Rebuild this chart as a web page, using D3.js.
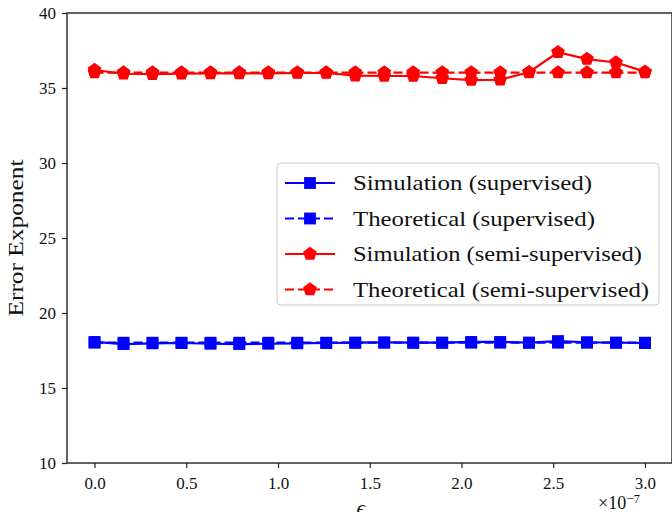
<!DOCTYPE html>
<html>
<head>
<meta charset="utf-8">
<script src="https://cdn.jsdelivr.net/npm/d3@7"></script>
<style>
body{margin:0;background:#fff;}
svg text{font-family:"Liberation Serif","DejaVu Serif",serif;fill:#111;}
</style>
</head>
<body>
<script>
var w = 672;
var h = 512;

// x values in units of 1e-7
var eps = [0.0,0.158,0.316,0.474,0.632,0.789,0.947,1.105,1.263,1.421,1.579,1.737,1.895,2.053,2.211,2.368,2.526,2.684,2.842,3.0];
var simSup = [18.07,17.93,17.98,18.0,17.95,17.93,17.95,17.98,18.0,18.02,18.04,18.02,18.02,18.07,18.07,18.02,18.13,18.05,18.02,18.0];
var theoSup = [18.02,18.02,18.02,18.02,18.02,18.02,18.02,18.02,18.02,18.02,18.02,18.02,18.02,18.02,18.02,18.02,18.02,18.02,18.02,18.02];
var simSemi = [36.2,35.95,35.92,35.95,35.97,35.97,35.97,36.0,36.0,35.82,35.8,35.8,35.65,35.53,35.55,36.05,37.38,36.93,36.7,36.09];
var theoSemi = [36.03,36.03,36.03,36.03,36.03,36.03,36.03,36.03,36.03,36.03,36.03,36.03,36.03,36.03,36.03,36.03,36.03,36.03,36.03,36.03];
var xTicks = [0.0,0.5,1.0,1.5,2.0,2.5,3.0];
var yTicks = [10,15,20,25,30,35,40];
var labels = ["Simulation (supervised)","Theoretical (supervised)","Simulation (semi-supervised)","Theoretical (semi-supervised)"];

var series = [
  {name:labels[0], vals:simSup, color:"#0000ff", dash:null, marker:"square", tw:239},
  {name:labels[1], vals:theoSup, color:"#0000ff", dash:"9,4", marker:"square", tw:242},
  {name:labels[2], vals:simSemi, color:"#ff0000", dash:null, marker:"pent", tw:289},
  {name:labels[3], vals:theoSemi, color:"#ff0000", dash:"9,4", marker:"pent", tw:296}
];

var padL = 67, padT = 13, padB = 463, padR = 672;

var x = d3.scaleLinear().domain([-0.15,3.15]).range([padL,padR+0.5]);
var y = d3.scaleLinear().domain([10,40]).range([padB,padT]);

var svg = d3.select("body").append("svg").attr("width",w).attr("height",h);

// markers
var sq = d3.symbol().type(d3.symbolSquare).size(140);
var pent = function(r){
  var pts = [];
  for(var i=0;i<5;i++){
    var a = -Math.PI/2 + i*2*Math.PI/5;
    pts.push([r*Math.cos(a), r*Math.sin(a)]);
  }
  return "M" + pts.join("L") + "Z";
};
var markerPath = function(m){ return m=="square" ? sq() : pent(7.2); };

var line = d3.line().x(function(d,i){return x(eps[i]);}).y(function(d){return y(d);});

series.forEach(function(s){
  var g = svg.append("g");
  g.append("path")
  .attr("d", line(s.vals))
  .attr("fill","none")
  .attr("stroke",s.color)
  .attr("stroke-width",2.2)
  .attr("stroke-dasharray",s.dash);
  g.selectAll("path.m")
  .data(s.vals)
  .enter()
  .append("path")
  .attr("class","m")
  .attr("d",markerPath(s.marker))
  .attr("transform",function(d,i){return "translate("+x(eps[i])+","+y(d)+")";})
  .attr("fill",s.color);
});

// axes
var xAxis = d3.axisBottom(x).tickValues(xTicks).tickFormat(d3.format(".1f")).tickSizeOuter(0).tickSize(5).tickPadding(9);
var yAxis = d3.axisLeft(y).tickValues(yTicks).tickSizeOuter(0).tickSize(5).tickPadding(6);

var gx = svg.append("g").attr("transform","translate(0,"+padB+")").call(xAxis);
var gy = svg.append("g").attr("transform","translate("+padL+",0)").call(yAxis);
[gx,gy].forEach(function(g){
  g.select(".domain").remove();
  g.selectAll("line").attr("stroke","#222").attr("stroke-width",1.2);
  g.selectAll("text").attr("font-size",17).attr("font-family","Liberation Serif").attr("fill","#111");
});

// frame
svg.append("rect")
.attr("x",padL).attr("y",padT)
.attr("width",padR-padL).attr("height",padB-padT)
.attr("fill","none").attr("stroke","#222").attr("stroke-width",1.4);

// axis labels
svg.append("text")
.attr("transform","translate(23,"+((padT+padB)/2)+") rotate(-90)")
.attr("text-anchor","middle")
.attr("font-size",21)
.attr("textLength",157).attr("lengthAdjust","spacingAndGlyphs")
.text("Error Exponent");

svg.append("text")
.attr("x",361).attr("y",515)
.attr("text-anchor","middle")
.attr("font-size",22)
.attr("font-style","italic")
.text("\u03f5");

var mult = svg.append("text").attr("x",598).attr("y",509).attr("font-size",18);
mult.append("tspan").text("\u00d710");
mult.append("tspan").attr("dy",-6).attr("font-size",13).text("\u22127");

// legend
var lg = svg.append("g");
lg.append("rect")
.attr("x",277).attr("y",163).attr("width",382).attr("height",142).attr("rx",4)
.attr("fill","#fff").attr("fill-opacity",0.85)
.attr("stroke","#ccc").attr("stroke-width",1);

var rows = lg.selectAll("g.row")
.data(series)
.enter()
.append("g")
.attr("transform",function(d,i){return "translate(0,"+(183+i*35.5)+")";});

rows.append("line")
.attr("x1",285).attr("x2",335).attr("y1",0).attr("y2",0)
.attr("stroke",function(d){return d.color;})
.attr("stroke-width",2.2)
.attr("stroke-dasharray",function(d){return d.dash;});
rows.append("path")
.attr("d",function(d){return markerPath(d.marker);})
.attr("transform","translate(310,0)")
.attr("fill",function(d){return d.color;});
rows.append("text")
.attr("x",353).attr("y",7)
.attr("font-size",21)
.attr("textLength",function(d){return d.tw;}).attr("lengthAdjust","spacingAndGlyphs")
.text(function(d){return d.name;});
</script>
</body>
</html>
